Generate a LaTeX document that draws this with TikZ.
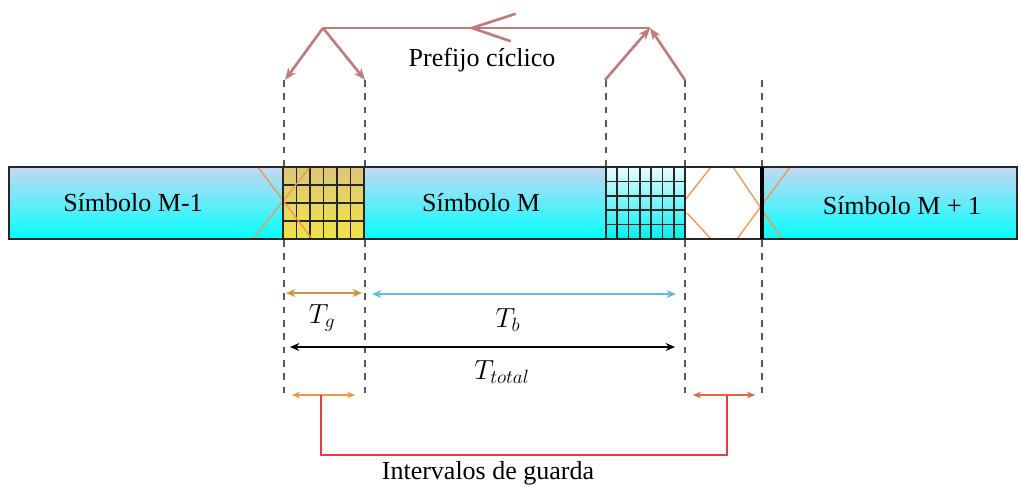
\documentclass[tikz,border=0pt]{standalone}
\usepackage{fontspec}
\setmainfont{Liberation Serif}
\usetikzlibrary{arrows.meta}
\definecolor{rose}{RGB}{192,124,124}
\definecolor{bartop}{RGB}{198,216,242}
\definecolor{barbot}{RGB}{0,255,255}
\definecolor{ytop}{RGB}{222,198,120}
\definecolor{ybot}{RGB}{240,228,70}
\definecolor{ctop}{RGB}{236,250,255}
\definecolor{cbot}{RGB}{0,240,240}
\definecolor{xorange}{RGB}{242,150,80}
\definecolor{tgcol}{RGB}{200,150,60}
\definecolor{tbcol}{RGB}{100,185,225}
\definecolor{gl}{RGB}{240,150,60}
\definecolor{gr}{RGB}{232,100,60}
\definecolor{redc}{RGB}{230,60,70}
\begin{document}
\begin{tikzpicture}[x=0.75pt,y=-0.75pt,
  dashl/.style={draw=black!65,line width=1.2pt,dash pattern=on 5pt off 5pt},
  roseline/.style={draw=rose,line width=2pt},
  rosearr/.style={roseline,-{Stealth[length=9pt,width=7pt]}},
  outl/.style={draw=black!85,line width=1.6pt},
  gridl/.style={draw=black!85,line width=1.3pt},
  xl/.style={draw=xorange,line width=1pt},
  lbl/.style={font=\fontsize{19.5}{23}\selectfont,inner sep=0pt},
  dim/.style={line width=1.6pt,{Stealth[length=7pt,width=6pt]}-{Stealth[length=7pt,width=6pt]}},
  gdim/.style={line width=1.1pt,{Stealth[length=6pt,width=5pt]}-{Stealth[length=6pt,width=5pt]}}
]
\useasboundingbox (0,0) rectangle (1019,486);
% dashed guides
\draw[dashl] (284,80) -- (284,398);
\draw[dashl] (365,80) -- (365,398);
\draw[dashl] (606,80) -- (606,167);
\draw[dashl] (685,80) -- (685,393);
\draw[dashl] (762,80) -- (762,396);
% bar
\path[top color=bartop,bottom color=barbot] (9,167) rectangle (1017,239);
\path[top color=ytop,bottom color=ybot] (283,167) rectangle (364,239);
\path[top color=ctop,bottom color=cbot] (606,167) rectangle (685,239);
\fill[white] (685,167) rectangle (762,239);
\foreach \i in {1,...,5} \draw[gridl] ({283+\i*13.5},167) -- ({283+\i*13.5},239);
\foreach \j in {1,...,3} \draw[gridl] (283,{167+\j*18}) -- (364,{167+\j*18});
\foreach \i in {1,...,6} \draw[gridl] ({606+\i*79/7},167) -- ({606+\i*79/7},239);
\foreach \j in {1,...,4} \draw[gridl] (606,{167+\j*14.4}) -- (685,{167+\j*14.4});
% orange crosses
\draw[xl] (258,167) -- (312,239);
\draw[xl] (253,239) -- (310,167);
\draw[xl] (685,200) -- (711,167);
\draw[xl] (687,213) -- (711,239);
\draw[xl] (733,167) -- (782,239);
\draw[xl] (737,239) -- (790,167);
% outlines
\draw[outl] (9,167) rectangle (1017,239);
\draw[outl] (283,167) -- (283,239);
\draw[outl] (364,167) -- (364,239);
\draw[outl] (606,167) -- (606,239);
\draw[outl] (685,167) -- (685,239);
\draw[draw=black,line width=2.8pt] (762,167) -- (762,239);
% labels in bar
\node[lbl] (s1) at (133,203) {Símbolo M-1};
\node[lbl] (s2) at (481,203) {Símbolo M};
\node[lbl] (s3) at (902,206) {Símbolo M + 1};
% cyclic prefix arrows
\coordinate (pl) at (323,28);
\coordinate (pr) at (650,28);
\coordinate (pm) at (472,28);
\coordinate (a1) at (285,80);
\coordinate (a2) at (365,80);
\coordinate (a3) at (605,80);
\coordinate (a4) at (685,80);
\draw[roseline] (pl) -- (pr);
\draw[roseline,line cap=round] (515,14) -- (pm) -- (510,41);
\draw[rosearr] (pl) -- (a1);
\draw[rosearr] (pl) -- (a2);
\draw[rosearr] (a3) -- (pr);
\draw[rosearr] (a4) -- (pr);
\node[lbl] (pc) at (482,60) {Prefijo cíclico};
% dimension arrows
\coordinate (g1) at (286,293); \coordinate (g2) at (362,293);
\coordinate (b1) at (372,294); \coordinate (b2) at (676,294);
\coordinate (t1) at (290,347); \coordinate (t2) at (675,347);
\draw[dim,draw=tgcol,tgcol] (g1) -- (g2);
\draw[dim,draw=tbcol,tbcol] (b1) -- (b2);
\draw[dim,draw=black] (t1) -- (t2);
\node[lbl] (tg) at (322,318) {$T_g$};
\node[lbl] (tb) at (508,320) {$T_b$};
\node[lbl] (tt) at (502,372) {$T_{total}$};
% guard intervals
\coordinate (l1) at (292,395); \coordinate (l2) at (355,395);
\coordinate (r1) at (693,395); \coordinate (r2) at (755,395);
\coordinate (ga) at (321,395); \coordinate (gb) at (727,395);
\draw[gdim,draw=gl,gl] (l1) -- (l2);
\draw[gdim,draw=gr,gr] (r1) -- (r2);
\draw[draw=redc,line width=1.5pt] (ga) -- (321,455) -- (727,455) -- (gb);
\node[lbl] (ig) at (488,473) {Intervalos de guarda};
\end{tikzpicture}
\end{document}
